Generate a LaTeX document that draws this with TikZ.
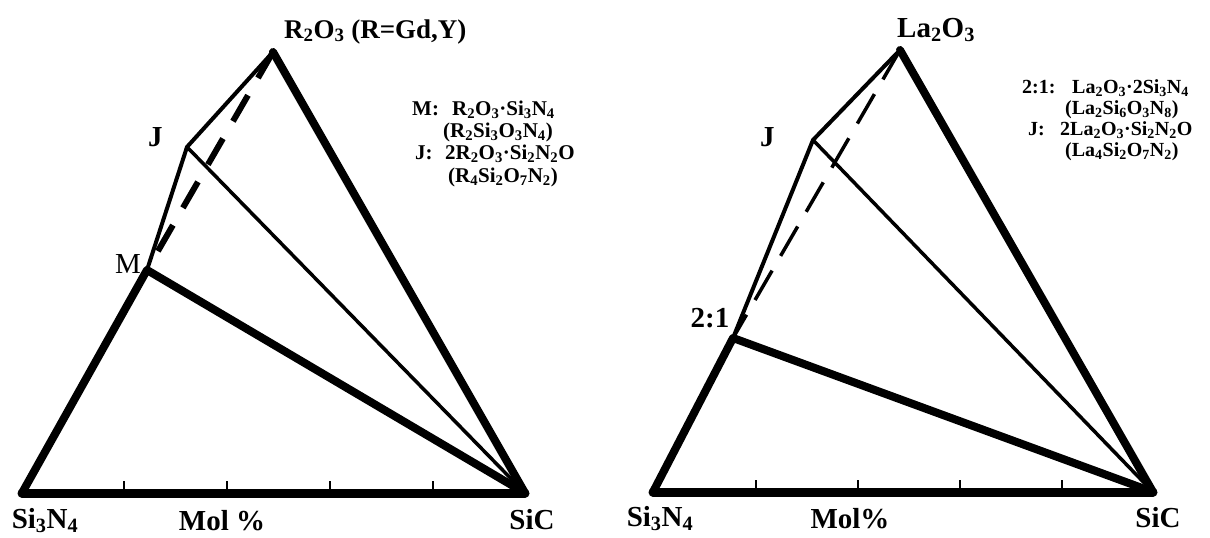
\documentclass[tikz,border=0pt]{standalone}
\usepackage{fontspec}
\setmainfont{Liberation Serif}
\usepackage{tikz}
\usetikzlibrary{positioning}

\begin{document}
\begin{tikzpicture}[x=1pt, y=-1pt,
  every node/.style={inner sep=0pt, font=\bfseries\fontsize{29}{32}\selectfont},
  corner/.style={anchor=base},
  plain/.style={anchor=base, font=\fontsize{29}{32}\selectfont},
  key/.style={anchor=base west, font=\bfseries\fontsize{21}{24}\selectfont},
  keyB/.style={anchor=base west, font=\bfseries\fontsize{20}{23}\selectfont},
  axisline/.style={line width=9pt, line cap=round},
  heavy/.style={line width=8pt, line cap=round, line join=round},
  mid/.style={line width=4pt, line cap=round, line join=round},
  tie/.style={line width=3.5pt, line cap=round},
  dashA/.style={line width=6pt, dash pattern=on 30pt off 20pt},
  dashB/.style={line width=3.5pt, dash pattern=on 34pt off 17pt},
  tickmark/.style={line width=2pt}]
\useasboundingbox (0,0) rectangle (1210,538);
\coordinate (top1) at (273,52);
\coordinate (j1) at (187,147);
\coordinate (m1) at (147,270);
\coordinate (sn1) at (22,493);
\coordinate (sc1) at (525,493);
\coordinate (top2) at (900,50);
\coordinate (j2) at (813,140);
\coordinate (t2) at (733,338);
\coordinate (sn2) at (653,492);
\coordinate (sc2) at (1153,492);
\foreach \d in {102,205,308,411}
  \draw[tickmark] ([xshift=\d pt]sn1) -- ++(0,-12);
\foreach \d in {103,205,307,409}
  \draw[tickmark] ([xshift=\d pt]sn2) -- ++(0,-12);
\draw[axisline] (sn1) -- (sc1);
\draw[heavy] (sn1) -- (m1) -- (sc1);
\draw[heavy] (top1) -- (sc1);
\draw[mid] (m1) -- (j1) -- (top1);
\draw[tie] (j1) -- (sc1);
\draw[dashA] (top1) -- (m1);
\draw[axisline] (sn2) -- (sc2);
\draw[heavy] (sn2) -- (t2) -- (sc2);
\draw[heavy] (top2) -- (sc2);
\draw[mid] (t2) -- (j2) -- (top2);
\draw[tie] (j2) -- (sc2);
\draw[dashB] (top2) -- (t2);
\node[anchor=base west, font=\bfseries\fontsize{27}{30}\selectfont] (r2o3) at (284,38) {R\textsubscript{2}O\textsubscript{3} (R=Gd,Y)};
\node[anchor=base west] (la2o3) at (897,37) {La\textsubscript{2}O\textsubscript{3}};
\node[anchor=base west] (lj1) at (148,146) {J};
\node[plain] (lm1) at (128,273) {M};
\node[anchor=base west] (lj2) at (760,146) {J};
\node[corner] (l21) at (710,327) {2:1};
\node[corner] (lsn1) at (45,528) {Si\textsubscript{3}N\textsubscript{4}};
\node[corner] (lmol1) at (222,530) {Mol \%};
\node[corner] (lsc1) at (532,529) {SiC};
\node[corner] (lsn2) at (660,526) {Si\textsubscript{3}N\textsubscript{4}};
\node[corner] (lmol2) at (850,528) {Mol\%};
\node[corner] (lsc2) at (1158,527) {SiC};
\node[key] (km) at (412,115) {M:};
\node[key] (km1) at (452,115) {R\textsubscript{2}O\textsubscript{3}·Si\textsubscript{3}N\textsubscript{4}};
\node[key] (km2) at (443,137) {(R\textsubscript{2}Si\textsubscript{3}O\textsubscript{3}N\textsubscript{4})};
\node[key] (kj) at (415,159) {J:};
\node[key] (kj1) at (445,159) {2R\textsubscript{2}O\textsubscript{3}·Si\textsubscript{2}N\textsubscript{2}O};
\node[key] (kj2) at (448,182) {(R\textsubscript{4}Si\textsubscript{2}O\textsubscript{7}N\textsubscript{2})};
\node[keyB] (kt) at (1022,93) {2:1:};
\node[keyB] (kt1) at (1072,93) {La\textsubscript{2}O\textsubscript{3}·2Si\textsubscript{3}N\textsubscript{4}};
\node[keyB] (kt2) at (1065,114) {(La\textsubscript{2}Si\textsubscript{6}O\textsubscript{3}N\textsubscript{8})};
\node[keyB] (kl) at (1028,135) {J:};
\node[keyB] (kl1) at (1060,135) {2La\textsubscript{2}O\textsubscript{3}·Si\textsubscript{2}N\textsubscript{2}O};
\node[keyB] (kl2) at (1065,156) {(La\textsubscript{4}Si\textsubscript{2}O\textsubscript{7}N\textsubscript{2})};
\end{tikzpicture}
\end{document}
